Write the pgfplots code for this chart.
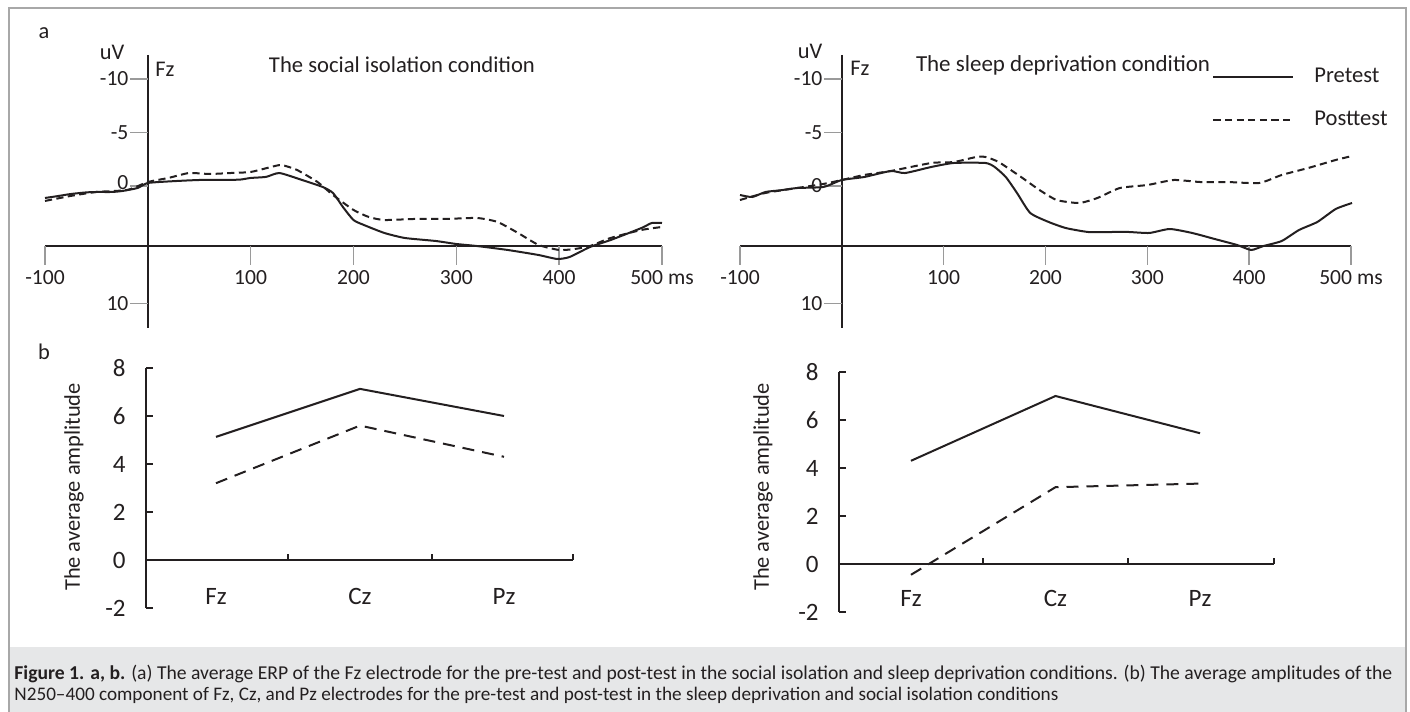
\documentclass[border=0pt]{standalone}
\usepackage{graphicx}
\usepackage{pgfplots}
\pgfplotsset{compat=1.18}
\usepackage{fontspec}
\setmainfont{Carlito}
\definecolor{capbg}{HTML}{E6E7E8}
\definecolor{framec}{HTML}{A8A8A8}
\definecolor{tickc}{HTML}{9A9A9A}
\definecolor{ink}{HTML}{231F20}
\newcommand\tfont{\fontsize{10.8}{12}\selectfont}
\newcommand\bfontsz{\fontsize{11.2}{13}\selectfont}
\newcommand\nfont{\fontsize{12.5}{14}\selectfont}
\pgfplotsset{
  erp/.style={scale only axis, anchor=south west, height=136.5pt,
    xmin=-100, xmax=500, ymin=-12.24, ymax=13.27, y dir=reverse,
    hide axis, clip=false},
  amp/.style={scale only axis, anchor=south west, height=120pt,
    ymin=-2, ymax=8, hide axis, clip=false},
  pre/.style={ink, line width=1pt, smooth, tension=0.35},
  post/.style={ink, line width=1pt, smooth, tension=0.35, dash pattern=on 3.6pt off 2.2pt},
}
\begin{document}
\begin{tikzpicture}
\useasboundingbox (0,0) rectangle (705pt,356pt);
\fill[capbg] (4.5pt,0) rectangle (703pt,32.5pt);
\draw[framec, line width=0.8pt] (4.5pt,0) -- (4.5pt,352pt) -- (703pt,352pt) -- (703pt,0);

% panel letters and labels
\node[font=\bfontsz, ink] at (22pt,339.5pt) {a};
\node[font=\bfontsz, ink] at (22pt,180pt) {b};
\node[font=\bfontsz, ink] at (56pt,330pt) {uV};
\node[font=\bfontsz, ink] at (82.5pt,321.5pt) {Fz};
\node[ink, inner sep=0pt] at (201pt,323.5pt) {\resizebox{133pt}{!}{\fontsize{11.3}{13}\selectfont The social isolation condition}};
\node[font=\bfontsz, ink] at (405pt,330.5pt) {uV};
\node[font=\bfontsz, ink] at (430pt,322pt) {Fz};
\node[ink, inner sep=0pt] at (531.5pt,323.5pt) {\resizebox{147pt}{!}{\fontsize{11.3}{13}\selectfont The sleep deprivation condition}};

% ---------------- top left: social isolation ERP
\begin{axis}[erp, at={(22.5pt,192pt)}, width=308.5pt]
\draw[ink, line width=1pt] (axis cs:0,-12.24) -- (axis cs:0,13.27);
\draw[ink, line width=1pt] (axis cs:-100,5.6) -- (axis cs:500,5.6);
\pgfplotsinvokeforeach{-100,100,200,300,400,500}{\draw[tickc, line width=0.7pt] (axis cs:#1,5.6) -- ++(0pt,-9.5pt);}
\pgfplotsinvokeforeach{-100,100,200,300,400}{\node[font=\tfont, ink, yshift=-16pt] at (axis cs:#1,5.6) {#1};}
\node[font=\tfont, ink, yshift=-16pt] at (axis cs:500,5.6) {500 ms};
\pgfplotsinvokeforeach{-10,-5,0,11}{\draw[tickc, line width=0.7pt] (axis cs:0,#1) -- ++(-9pt,0pt);}
\node[font=\tfont, ink, anchor=east, inner sep=0pt, xshift=-9.5pt] at (axis cs:0,-10) {-10};
\node[font=\tfont, ink, anchor=east, inner sep=0pt, xshift=-9.5pt] at (axis cs:0,-5) {-5};
\node[font=\tfont, ink, anchor=east, inner sep=0pt, xshift=-9.5pt] at (axis cs:0,-0.3) {0};
\node[font=\tfont, ink, anchor=east, inner sep=0pt, xshift=-9.5pt] at (axis cs:0,11) {10};
\addplot[pre] coordinates {(-100,1.12) (-88,0.95) (-75,0.75) (-60,0.6) (-50,0.56) (-35,0.56) (-25,0.47) (-10,0.19) (0,-0.28) (25,-0.45) (50,-0.56) (75,-0.56) (90,-0.6) (100,-0.75) (115,-0.85) (128,-1.21) (150,-0.56) (170,0.09) (180,0.65) (190,2.0) (200,3.18) (210,3.64) (230,4.39) (250,4.86) (280,5.14) (300,5.42) (320,5.61) (350,5.98) (380,6.45) (398,6.82) (410,6.64) (430,5.70) (450,5.05) (480,3.93) (490,3.46) (500,3.46)};
\addplot[post] coordinates {(-100,1.40) (-75,0.93) (-50,0.56) (-20,0.37) (0,-0.37) (20,-0.75) (40,-1.21) (60,-1.12) (80,-1.21) (100,-1.31) (120,-1.78) (130,-1.96) (145,-1.50) (165,-0.37) (180,0.84) (200,2.24) (215,2.9) (230,3.18) (260,3.08) (290,3.08) (320,2.99) (340,3.36) (360,4.39) (380,5.51) (400,5.98) (415,5.89) (430,5.61) (450,4.86) (480,4.11) (500,3.83)};
\end{axis}

% ---------------- top right: sleep deprivation ERP
\begin{axis}[erp, at={(370pt,192pt)}, width=305.5pt,
  legend cell align=left,
  legend image code/.code={\draw[#1] (0pt,0pt) -- (40pt,0pt);},
  legend style={at={(0.7725,0.841)}, anchor=west, draw=none, fill=none,
    font=\fontsize{11.3}{13}\selectfont, text=ink, inner sep=0pt, row sep=9pt, column sep=8pt}]
\draw[ink, line width=1pt] (axis cs:0,-12.24) -- (axis cs:0,13.27);
\draw[ink, line width=1pt] (axis cs:-100,5.6) -- (axis cs:500,5.6);
\pgfplotsinvokeforeach{-100,100,200,300,400,500}{\draw[tickc, line width=0.7pt] (axis cs:#1,5.6) -- ++(0pt,-9.5pt);}
\pgfplotsinvokeforeach{-100,100,200,300,400}{\node[font=\tfont, ink, yshift=-16pt] at (axis cs:#1,5.6) {#1};}
\node[font=\tfont, ink, yshift=-16pt] at (axis cs:500,5.6) {500 ms};
\pgfplotsinvokeforeach{-10,-5,0,11}{\draw[tickc, line width=0.7pt] (axis cs:0,#1) -- ++(-9pt,0pt);}
\node[font=\tfont, ink, anchor=east, inner sep=0pt, xshift=-9.5pt] at (axis cs:0,-10) {-10};
\node[font=\tfont, ink, anchor=east, inner sep=0pt, xshift=-9.5pt] at (axis cs:0,-5) {-5};
\node[font=\tfont, ink, anchor=east, inner sep=0pt, xshift=-9.5pt] at (axis cs:0,0) {0};
\node[font=\tfont, ink, anchor=east, inner sep=0pt, xshift=-9.5pt] at (axis cs:0,11) {10};
\addplot[pre] coordinates {(-100,0.84) (-88,1.03) (-75,0.56) (-60,0.4) (-44,0.19) (-18,0.09) (0,-0.56) (22,-0.84) (48,-1.40) (62,-1.21) (88,-1.78) (110,-2.15) (141,-2.15) (150,-1.78) (161,-0.84) (172,0.65) (185,2.52) (203,3.36) (220,3.93) (242,4.30) (264,4.30) (282,4.30) (302,4.39) (322,4.02) (344,4.39) (366,4.95) (388,5.51) (402,5.98) (414,5.61) (432,5.14) (449,4.11) (467,3.36) (485,2.15) (501,1.59)};
\addlegendentry{Pretest}
\addplot[post] coordinates {(-100,1.31) (-75,0.65) (-44,0.19) (-18,-0.19) (0,-0.56) (22,-1.03) (48,-1.40) (88,-2.15) (110,-2.24) (132,-2.71) (141,-2.71) (154,-2.24) (176,-0.84) (194,0.37) (211,1.31) (233,1.59) (251,1.12) (273,0.19) (300,-0.09) (326,-0.56) (352,-0.37) (379,-0.37) (410,-0.28) (432,-1.03) (458,-1.68) (485,-2.43) (501,-2.80)};
\addlegendentry{Posttest}
\end{axis}

% ---------------- bottom left
\begin{axis}[amp, at={(73pt,52pt)}, width=213.5pt, xmin=-0.486, xmax=2.479]
\draw[ink, line width=1pt] (axis cs:-0.486,-2) -- (axis cs:-0.486,8);
\draw[ink, line width=1pt] (axis cs:-0.486,0) -- (axis cs:2.479,0);
\pgfplotsinvokeforeach{-2,0,2,4,6,8}{\draw[ink, line width=1pt] (axis cs:-0.486,#1) -- ++(3.5pt,0pt);
  \node[font=\nfont, ink, anchor=east, inner sep=0pt, xshift=-10pt] at (axis cs:-0.486,#1) {#1};}
\pgfplotsinvokeforeach{0.5,1.5,2.479}{\draw[ink, line width=1pt] (axis cs:#1,0) -- ++(0pt,3pt);}
\node[font=\nfont, ink] at (axis cs:0,-1.54) {Fz};
\node[font=\nfont, ink] at (axis cs:1,-1.54) {Cz};
\node[font=\nfont, ink] at (axis cs:2,-1.54) {Pz};
\addplot[ink, line width=1pt] coordinates {(0,5.13) (1,7.13) (2,6.0)};
\addplot[ink, line width=1pt, dash pattern=on 6pt off 4pt] coordinates {(0,3.2) (1,5.6) (2,4.3)};
\end{axis}
\node[font=\bfontsz, ink, rotate=90] at (37pt,112.5pt) {The average amplitude};

% ---------------- bottom right
\begin{axis}[amp, at={(419.5pt,50pt)}, width=217.5pt, xmin=-0.498, xmax=2.512]
\draw[ink, line width=1pt] (axis cs:-0.498,-2) -- (axis cs:-0.498,8);
\draw[ink, line width=1pt] (axis cs:-0.498,0) -- (axis cs:2.512,0);
\pgfplotsinvokeforeach{-2,0,2,4,6,8}{\draw[ink, line width=1pt] (axis cs:-0.498,#1) -- ++(3.5pt,0pt);
  \node[font=\nfont, ink, anchor=east, inner sep=0pt, xshift=-10pt] at (axis cs:-0.498,#1) {#1};}
\pgfplotsinvokeforeach{0.5,1.5,2.512}{\draw[ink, line width=1pt] (axis cs:#1,0) -- ++(0pt,3pt);}
\node[font=\nfont, ink] at (axis cs:0,-1.42) {Fz};
\node[font=\nfont, ink] at (axis cs:1,-1.42) {Cz};
\node[font=\nfont, ink] at (axis cs:2,-1.42) {Pz};
\addplot[ink, line width=1pt] coordinates {(0,4.3) (1,7.0) (2,5.45)};
\addplot[ink, line width=1pt, dash pattern=on 6pt off 4pt] coordinates {(0,-0.45) (1,3.2) (2,3.35)};
\end{axis}
\node[font=\bfontsz, ink, rotate=90] at (381.5pt,112.5pt) {The average amplitude};

% ---------------- caption
\node[anchor=west, inner sep=0pt, ink] at (7pt,19pt) {\resizebox{689pt}{!}{\fontsize{9}{11}\selectfont\textbf{Figure 1. a, b.} (a) The average ERP of the Fz electrode for the pre-test and post-test in the social isolation and sleep deprivation conditions. (b) The average amplitudes of the}};
\node[anchor=west, inner sep=0pt, ink] at (7pt,8.5pt) {\resizebox{522pt}{!}{\fontsize{9}{11}\selectfont N250--400 component of Fz, Cz, and Pz electrodes for the pre-test and post-test in the sleep deprivation and social isolation conditions}};
\end{tikzpicture}
\end{document}
